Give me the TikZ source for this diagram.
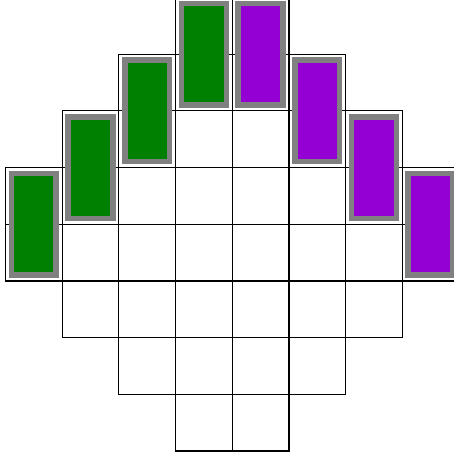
\documentclass[tikz,border=0pt]{standalone}
\definecolor{domgreen}{RGB}{0,128,0}
\definecolor{dompurple}{RGB}{148,0,211}
\definecolor{domgray}{RGB}{128,128,128}
\tikzset{
  cell/.style={draw=black, line width=0.6pt},
  greendom/.style={draw=domgray, fill=domgreen, line width=2.8pt},
  purpledom/.style={draw=dompurple!0!domgray, fill=dompurple, line width=2.8pt}
}
\begin{document}
\begin{tikzpicture}[x=1cm,y=1cm]
\useasboundingbox (-0.097,-0.088) rectangle (7.91,7.956);
% Aztec diamond cells
\foreach \r/\a/\b in {0/3/4,1/2/5,2/1/6,3/0/7,4/0/7,5/1/6,6/2/5,7/3/4}{
  \foreach \c in {\a,...,\b}{
    \draw[cell] (\c,7-\r) rectangle ++(1,1);
  }
}
% green dominoes
\foreach \c in {0,1,2,3}{
  \draw[greendom] (\c+0.105,3+\c+0.105) rectangle (\c+0.895,5+\c-0.105);
}
% purple dominoes
\foreach \c in {4,5,6,7}{
  \draw[purpledom] (\c+0.105,10-\c+0.105) rectangle (\c+0.895,12-\c-0.105);
}
\end{tikzpicture}
\end{document}
